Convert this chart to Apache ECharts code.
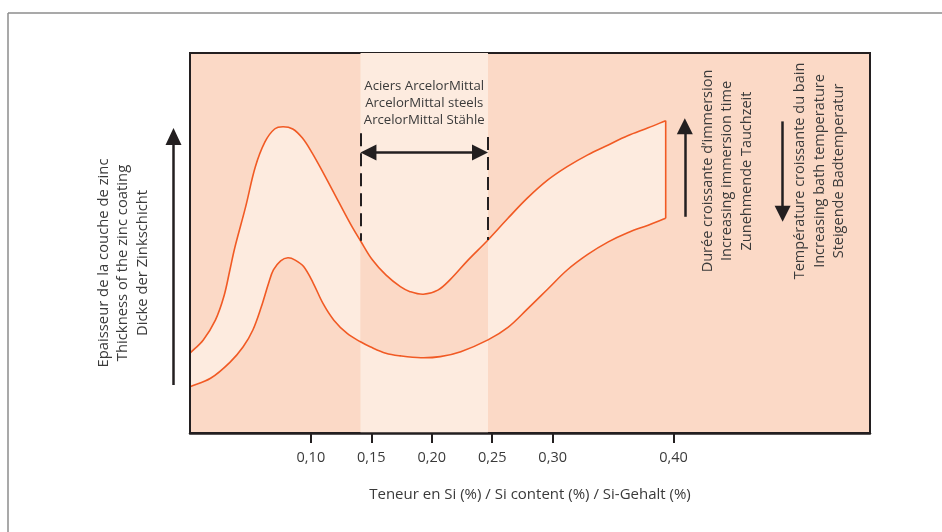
<!DOCTYPE html>
<html>
<head>
<meta charset="utf-8">
<script src="https://cdn.jsdelivr.net/npm/echarts@6/dist/echarts.min.js"></script>
<style>
html,body{margin:0;padding:0;background:#fff;}
#chart{width:942px;height:532px;}
</style>
</head>
<body>
<div id="chart"></div>
<script>
// ---- data (Si content in %, coating thickness in arbitrary units 0-100) ----
const siUpper = [0, 0.011, 0.021, 0.028, 0.033, 0.037, 0.046, 0.054, 0.062, 0.070,
  0.077, 0.085, 0.093, 0.101, 0.112, 0.123, 0.134, 0.141, 0.151, 0.162,
  0.174, 0.182, 0.193, 0.205, 0.215, 0.230, 0.2465, 0.263, 0.279, 0.296,
  0.312, 0.329, 0.346, 0.362, 0.379, 0.3935];
const thickUpper = [21.0, 24.5, 29.7, 35.9, 42.9, 48.7, 59.5, 70.0, 76.6, 80.0,
  80.6, 80.0, 77.6, 73.7, 67.4, 60.8, 54.3, 50.6, 45.5, 41.6,
  38.5, 37.2, 36.5, 37.6, 40.3, 45.5, 50.8, 56.5, 61.8, 66.6,
  70.1, 73.2, 75.8, 78.2, 80.3, 82.2];
const siLower = [0, 0.017, 0.033, 0.044, 0.052, 0.059, 0.065, 0.069, 0.075, 0.081,
  0.087, 0.094, 0.102, 0.110, 0.119, 0.130, 0.141, 0.149, 0.162, 0.174,
  0.191, 0.207, 0.224, 0.2465, 0.263, 0.279, 0.296, 0.312, 0.329, 0.346,
  0.362, 0.379, 0.3935];
const thickLower = [12.2, 14.4, 18.6, 22.7, 27.1, 33.2, 39.4, 42.9, 45.3, 46.1,
  45.5, 43.8, 39.4, 34.1, 29.7, 26.2, 24.0, 22.7, 21.0, 20.3,
  19.8, 20.1, 21.4, 24.5, 27.8, 32.6, 37.9, 42.9, 47.0, 50.3,
  52.7, 54.7, 56.5];
const steelBand = [0.141, 0.2465];          // ArcelorMittal steels range
const tickValues = [0.10, 0.15, 0.20, 0.25, 0.30, 0.40];
const tickLabels = ['0,10', '0,15', '0,20', '0,25', '0,30', '0,40'];
const bandLabel = ['Aciers ArcelorMittal', 'ArcelorMittal steels', 'ArcelorMittal Stähle'];
const xName = 'Teneur en Si (%) / Si content (%) / Si-Gehalt (%)';
const yName = ['Epaisseur de la couche de zinc', 'Thickness of the zinc coating', 'Dicke der Zinkschicht'];
const timeLabel = ['Durée croissante d\u2019immersion', 'Increasing immersion time', 'Zunehmende Tauchzeit'];
const tempLabel = ['Température croissante du bain', 'Increasing bath temperature', 'Steigende Badtemperatur'];
const dashTop = [78.9, 77.9];
const arrowY = 73.8;
const arrowInset = 0.0066;                  // half an arrow head, so the tips touch the dashed lines
const timeArrow = {x: 0.4093, from: 56.9, to: 80.7};
const tempArrow = {x: 0.4902, from: 82.0, to: 57.7};

const SALMON = '#fbd9c6';
const LIGHT = '#fdebdf';
const CURVE = '#f15a24';
const INK = '#231f20';
const TEXT = '#3a3a3a';
const TENSION = 0.36;

const upperPts = siUpper.map((x, i) => [x, thickUpper[i]]);
const lowerPts = siLower.map((x, i) => [x, thickLower[i]]);
const uA = siUpper.indexOf(steelBand[0]), uB = siUpper.indexOf(steelBand[1]);
const lA = siLower.indexOf(steelBand[0]), lB = siLower.indexOf(steelBand[1]);

// smooth cubic segments through the screen points (same segments used for fills and strokes)
function smoothSegs(S) {
  const n = S.length, before = [], after = [];
  for (let i = 0; i < n; i++) {
    const p = S[Math.max(i - 1, 0)], q = S[Math.min(i + 1, n - 1)], c = S[i];
    const vx = q[0] - p[0], vy = q[1] - p[1];
    const d0 = Math.hypot(c[0] - p[0], c[1] - p[1]), d1 = Math.hypot(q[0] - c[0], q[1] - c[1]);
    const tot = d0 + d1 || 1;
    after.push([c[0] + vx * TENSION * d1 / tot, c[1] + vy * TENSION * d1 / tot]);
    before.push([c[0] - vx * TENSION * d0 / tot, c[1] - vy * TENSION * d0 / tot]);
  }
  return {S: S, before: before, after: after};
}
const f = v => v.toFixed(2);
function forward(g, a, b) {
  let d = '';
  for (let i = a; i < b; i++) {
    d += ' C' + f(g.after[i][0]) + ' ' + f(g.after[i][1]) + ' ' + f(g.before[i + 1][0]) + ' ' +
      f(g.before[i + 1][1]) + ' ' + f(g.S[i + 1][0]) + ' ' + f(g.S[i + 1][1]);
  }
  return d;
}
function backward(g, b, a) {
  let d = '';
  for (let i = b; i > a; i--) {
    d += ' C' + f(g.before[i][0]) + ' ' + f(g.before[i][1]) + ' ' + f(g.after[i - 1][0]) + ' ' +
      f(g.after[i - 1][1]) + ' ' + f(g.S[i - 1][0]) + ' ' + f(g.S[i - 1][1]);
  }
  return d;
}
function regionPath(U, L, ua, ub, la, lb) {
  return 'M' + f(U.S[ua][0]) + ' ' + f(U.S[ua][1]) + forward(U, ua, ub) +
    ' L' + f(L.S[lb][0]) + ' ' + f(L.S[lb][1]) + backward(L, lb, la) + ' Z';
}
function strokePath(g) {
  return 'M' + f(g.S[0][0]) + ' ' + f(g.S[0][1]) + forward(g, 0, g.S.length - 1);
}

const chart = echarts.init(document.getElementById('chart'), null, {renderer: 'canvas'});
const option = {
  animation: false,
  backgroundColor: '#ffffff',
  grid: {left: 190, right: 72, top: 53, bottom: 99, show: true,
    backgroundColor: SALMON, borderColor: INK, borderWidth: 2, containLabel: false},
  xAxis: {
    type: 'value', min: 0, max: 0.5625, z: 5,
    axisLine: {show: true, onZero: false, lineStyle: {color: INK, width: 2.5}},
    axisTick: {show: true, customValues: tickValues, length: 10, inside: false,
      lineStyle: {color: INK, width: 2}},
    axisLabel: {show: true, customValues: tickValues, margin: 17, color: TEXT,
      fontFamily: 'Open Sans', fontSize: 14.5,
      formatter: v => { const i = tickValues.findIndex(t => Math.abs(t - v) < 1e-9); return i >= 0 ? tickLabels[i] : ''; }},
    splitLine: {show: false},
    name: xName, nameLocation: 'middle', nameGap: 54,
    nameTextStyle: {color: TEXT, fontFamily: 'Open Sans', fontSize: 15}
  },
  yAxis: {
    type: 'value', min: 0, max: 100, z: 5,
    axisLine: {show: true, lineStyle: {color: INK, width: 2}},
    axisTick: {show: false}, axisLabel: {show: false}, splitLine: {show: false}
  },
  series: [
    {
      type: 'line', z: 1, data: [], silent: true,
      markArea: {
        silent: true,
        itemStyle: {color: LIGHT},
        label: {show: true, position: 'insideTop', distance: 25, color: TEXT,
          fontFamily: 'Open Sans', fontSize: 13.2, lineHeight: 17,
          formatter: bandLabel.join('\n')},
        data: [[{xAxis: steelBand[0], yAxis: 0}, {xAxis: steelBand[1], yAxis: 100}]]
      }
    },
    {
      type: 'custom', z: 2, silent: true,
      data: [[0.2, 50]], encode: {x: 0, y: 1},
      renderItem: function (params, api) {
        const U = smoothSegs(upperPts.map(p => api.coord(p)));
        const L = smoothSegs(lowerPts.map(p => api.coord(p)));
        const nu = U.S.length - 1, nl = L.S.length - 1;
        return {
          type: 'group',
          children: [
            {type: 'path', shape: {pathData: regionPath(U, L, 0, uA, 0, lA)}, style: {fill: LIGHT, stroke: null}},
            {type: 'path', shape: {pathData: regionPath(U, L, uA, uB, lA, lB)}, style: {fill: SALMON, stroke: null}},
            {type: 'path', shape: {pathData: regionPath(U, L, uB, nu, lB, nl)}, style: {fill: LIGHT, stroke: null}},
            {type: 'path', shape: {pathData: strokePath(U)}, style: {fill: null, stroke: CURVE, lineWidth: 1.6}},
            {type: 'path', shape: {pathData: strokePath(L)}, style: {fill: null, stroke: CURVE, lineWidth: 1.6}},
            {type: 'line', shape: {x1: U.S[nu][0], y1: U.S[nu][1], x2: L.S[nl][0], y2: L.S[nl][1]},
              style: {stroke: CURVE, lineWidth: 1.6}}
          ]
        };
      }
    },
    {
      type: 'line', z: 7, data: [], silent: true,
      markLine: {
        silent: true, animation: false,
        label: {show: false},
        data: [
          [{coord: [steelBand[0], dashTop[0]], symbol: 'none', lineStyle: {type: [13, 7], color: INK, width: 2}},
           {coord: [steelBand[0], thickUpper[uA]], symbol: 'none'}],
          [{coord: [steelBand[1], dashTop[1]], symbol: 'none', lineStyle: {type: [13, 7], color: INK, width: 2}},
           {coord: [steelBand[1], thickUpper[uB]], symbol: 'none'}],
          [{coord: [steelBand[0] + arrowInset, arrowY], symbol: 'triangle', symbolSize: [16, 16], lineStyle: {type: 'solid', color: INK, width: 2.5}},
           {coord: [steelBand[1] - arrowInset, arrowY], symbol: 'triangle', symbolSize: [16, 16]}],
          [{coord: [timeArrow.x, timeArrow.from], symbol: 'none', lineStyle: {type: 'solid', color: INK, width: 2.5}},
           {coord: [timeArrow.x, timeArrow.to], symbol: 'triangle', symbolSize: [16, 16]}],
          [{coord: [tempArrow.x, tempArrow.from], symbol: 'none', lineStyle: {type: 'solid', color: INK, width: 2.5}},
           {coord: [tempArrow.x, tempArrow.to], symbol: 'triangle', symbolSize: [16, 16]}]
        ],
        itemStyle: {color: INK}
      }
    }
  ],
  graphic: [
    {type: 'line', shape: {x1: 8, y1: 13, x2: 942, y2: 13}, style: {stroke: '#8c8c8c', lineWidth: 1.5}, silent: true},
    {type: 'line', shape: {x1: 8, y1: 13, x2: 8, y2: 532}, style: {stroke: '#8c8c8c', lineWidth: 1.5}, silent: true},
    {type: 'line', shape: {x1: 173.5, y1: 385, x2: 173.5, y2: 140}, style: {stroke: INK, lineWidth: 2.5}, silent: true},
    {type: 'polygon', shape: {points: [[173.5, 128], [165.5, 145], [181.5, 145]]}, style: {fill: INK}, silent: true},
    {type: 'text', x: 123, y: 263, rotation: Math.PI / 2, silent: true,
      style: {text: yName.join('\n'), align: 'center', verticalAlign: 'middle', lineHeight: 19.5,
        fill: TEXT, font: '14.8px "Open Sans"'}},
    {type: 'text', x: 727, y: 171, rotation: Math.PI / 2, silent: true,
      style: {text: timeLabel.join('\n'), align: 'center', verticalAlign: 'middle', lineHeight: 19.5,
        fill: TEXT, font: '14.5px "Open Sans"'}},
    {type: 'text', x: 819.5, y: 171, rotation: Math.PI / 2, silent: true,
      style: {text: tempLabel.join('\n'), align: 'center', verticalAlign: 'middle', lineHeight: 19.5,
        fill: TEXT, font: '14.5px "Open Sans"'}}
  ]
};
chart.setOption(option);
</script>
</body>
</html>
